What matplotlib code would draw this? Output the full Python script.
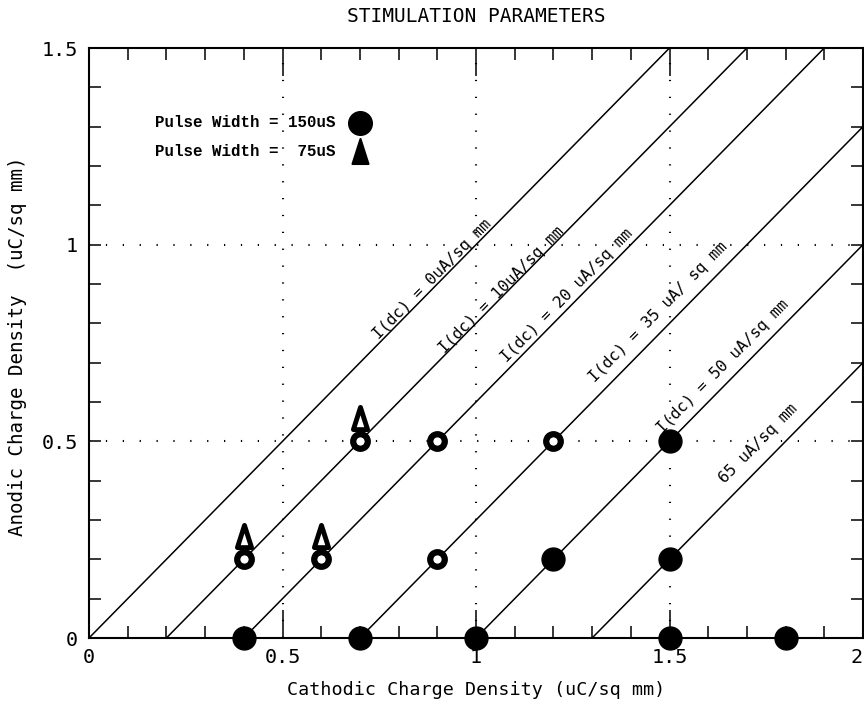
import numpy as np
import matplotlib
matplotlib.use("Agg")
import matplotlib.pyplot as plt
from matplotlib.markers import MarkerStyle
from matplotlib.path import Path

# ---------------- data ----------------
dc_currents = [0, 10, 20, 35, 50, 65]              # uA/sq mm
line_x0 = [0.0, 0.2, 0.4, 0.7, 1.0, 1.3]           # cathodic density where anodic = 0
line_labels = ["I(dc) = 0uA/sq mm", "I(dc) = 10uA/sq mm", "I(dc) = 20 uA/sq mm",
               "I(dc) = 35 uA/ sq mm", "I(dc) = 50 uA/sq mm", "65 uA/sq mm"]
label_x = [0.886, 1.067, 1.235, 1.47, 1.638, 1.73]
label_y = [0.912, 0.884, 0.872, 0.830, 0.690, 0.494]

# Pulse width 150 uS, filled circles
filled_x = [0.4, 0.7, 1.0, 1.5, 1.8, 1.2, 1.5, 1.5]
filled_y = [0.0, 0.0, 0.0, 0.0, 0.0, 0.2, 0.2, 0.5]
# open circles
open_x = [0.4, 0.6, 0.9, 0.7, 0.9, 1.2]
open_y = [0.2, 0.2, 0.2, 0.5, 0.5, 0.5]
# Pulse width 75 uS, triangles
tri_x = [0.4, 0.6, 0.7]
tri_y = [0.26, 0.26, 0.56]

x_ticks = [0, 0.5, 1, 1.5, 2]
x_ticklabels = ["0", "0.5", "1", "1.5", "2"]
y_ticks = [0, 0.5, 1, 1.5]
y_ticklabels = ["0", "0.5", "1", "1.5"]

legend_labels = ["Pulse Width = 150uS", "Pulse Width =  75uS"]

# ---------------- figure ----------------
plt.rcParams['font.family'] = ['DejaVu Sans Mono', 'DejaVu Sans']
W, H = 864, 706
fig = plt.figure(figsize=(W / 100, H / 100), dpi=100)
ax = fig.add_axes([89 / W, 68 / H, 774 / W, 590 / H])
ax.set_xlim(0, 2)
ax.set_ylim(0, 1.5)

for s in ax.spines.values():
    s.set_linewidth(1.5)

ax.set_xticks(x_ticks)
ax.set_xticklabels(x_ticklabels)
ax.set_yticks(y_ticks)
ax.set_yticklabels(y_ticklabels)
ax.set_xticks(np.arange(0, 2.001, 0.1), minor=True)
ax.set_yticks(np.arange(0, 1.501, 0.1), minor=True)
ax.tick_params(axis='x', which='major', direction='in', length=20, width=1.1,
               top=True, labelsize=14.5, pad=7)
ax.tick_params(axis='x', which='minor', direction='in', length=8.5, width=1.1, top=True)
ax.tick_params(axis='y', which='both', direction='in', length=8.5, width=1.1,
               right=True, labelsize=14.5, pad=8)
# keep the last x tick label inside the figure edge
ax.get_xticklabels()[-1].set_horizontalalignment('right')

# dotted grid
for gx in x_ticks[1:-1]:
    ax.axvline(gx, color='k', lw=1.5, linestyle=(0, (0.6, 7.5)), zorder=1)
for gy in y_ticks[1:-1]:
    ax.axhline(gy, color='k', lw=1.5, linestyle=(0, (0.6, 7.5)), zorder=1)

# constant-current lines
for x0 in line_x0:
    ax.plot([x0, x0 + 2], [0, 2], color='k', lw=1.1, zorder=2)

# label angle in display space
p0 = ax.transData.transform((0, 0))
p1 = ax.transData.transform((1, 1))
ang = np.degrees(np.arctan2(p1[1] - p0[1], p1[0] - p0[0]))
for lx, ly, t in zip(label_x, label_y, line_labels):
    ax.text(lx, ly, t, rotation=ang, rotation_mode='anchor', ha='center', va='center',
            fontsize=11.4, color='k', zorder=3)

# markers
ax.plot(filled_x, filled_y, 'o', ms=16.5, color='k', mec='k', clip_on=False, zorder=5)
ax.plot(open_x, open_y, 'o', ms=10.5, mfc='white', mec='k', mew=4.5, clip_on=False, zorder=5)

tri_path = Path([(-0.32, -0.5), (0.32, -0.5), (0.0, 0.5), (-0.32, -0.5)],
                [Path.MOVETO, Path.LINETO, Path.LINETO, Path.CLOSEPOLY])
tri_marker = MarkerStyle(tri_path, joinstyle='round')
ax.plot(tri_x, tri_y, linestyle='none', marker=tri_marker, ms=16, mfc='white', mec='k',
        mew=3.5, zorder=6)

# legend (drawn as text + markers in data space)
leg_text_x = 0.17
leg_y = [1.31, 1.237]
leg_marker_x = 0.70
for yy, t in zip(leg_y, legend_labels):
    ax.text(leg_text_x, yy, t, ha='left', va='center', fontsize=11.4,
            family=['Liberation Mono', 'DejaVu Sans Mono'], fontweight='bold', zorder=4)
ax.plot([leg_marker_x], [leg_y[0]], 'o', ms=17, color='k', zorder=5)
ax.plot([leg_marker_x], [leg_y[1]], linestyle='none', marker=tri_marker, ms=18, mfc='k',
        mec='k', mew=1.5, zorder=5)

# titles / labels
fig.text(476 / W, 1 - 16 / H, "STIMULATION PARAMETERS", ha='center', va='center', fontsize=14)
fig.text(476 / W, 1 - 690 / H, "Cathodic Charge Density (uC/sq mm)", ha='center',
         va='center', fontsize=13.2)
fig.text(18 / W, 1 - 346 / H, "Anodic Charge Density  (uC/sq mm)", ha='center',
         va='center', rotation=90, fontsize=13.8)

fig.savefig("out.png", dpi=100)
